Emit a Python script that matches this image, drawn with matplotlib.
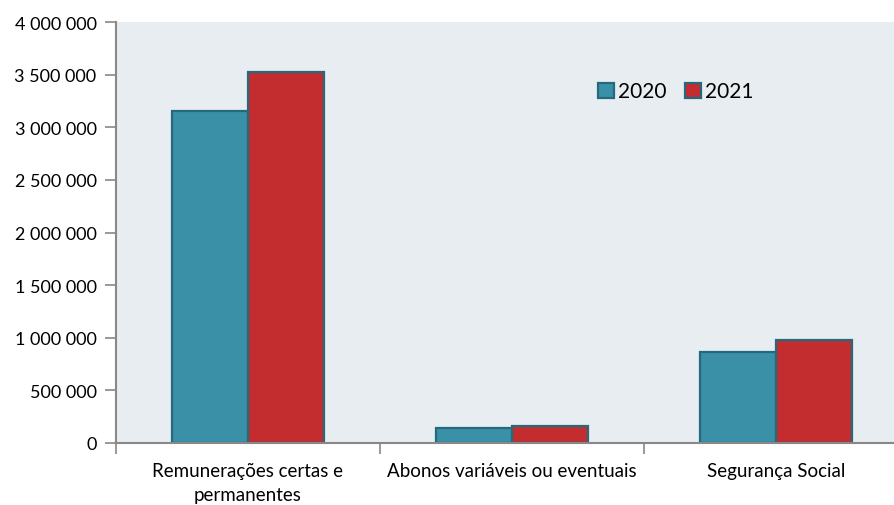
import numpy as np
import matplotlib.pyplot as plt
from matplotlib.ticker import FuncFormatter, FixedLocator

categories = ['Remunerações certas e\npermanentes', 'Abonos variáveis ou eventuais', 'Segurança Social']
values_2020 = [3154000, 143000, 869000]
values_2021 = [3525000, 162000, 974000]
years = ['2020', '2021']

plt.rcParams['font.family'] = ['Lato', 'DejaVu Sans']

fig = plt.figure(figsize=(8.94, 5.06), dpi=100)
# axes runs a little past the right edge, like the original crop
ax = fig.add_axes([116 / 894, 62 / 506, 792 / 894, 421 / 506])
ax.set_facecolor('#E8EDF1')

x = np.arange(len(categories))
w = 0.288
edge = '#236a7c'
ax.bar(x - w / 2, values_2020, w, color='#3A91A7', edgecolor=edge, linewidth=1.6, label=years[0])
ax.bar(x + w / 2, values_2021, w, color='#C32D2F', edgecolor=edge, linewidth=1.6, label=years[1])

ax.set_xlim(-0.5, 2.5)
ax.set_ylim(0, 4000000)
ax.set_yticks(np.arange(0, 4000001, 500000))
ax.yaxis.set_major_formatter(FuncFormatter(lambda v, p: f'{int(v):,}'.replace(',', ' ')))

ax.xaxis.set_major_locator(FixedLocator([-0.5, 0.5, 1.5, 2.5]))
ax.xaxis.set_major_formatter(FuncFormatter(lambda v, p: ''))
ax.xaxis.set_minor_locator(FixedLocator(x))
ax.set_xticklabels(categories, minor=True, linespacing=1.45)
ax.tick_params(axis='x', which='minor', length=0, pad=14, labelsize=13.5)
ax.tick_params(axis='x', which='major', length=8, color='#888888', width=1.2)
ax.tick_params(axis='y', length=8, color='#888888', width=1.2, labelsize=13, pad=6)

for s in ['top', 'right']:
    ax.spines[s].set_visible(False)
for s in ['left', 'bottom']:
    ax.spines[s].set_color('#888888')
    ax.spines[s].set_linewidth(1.5)

ax.legend(loc='center left', bbox_to_anchor=(0.585, 0.835), ncol=2, frameon=False,
          fontsize=15, handlelength=0.75, handleheight=0.75, handletextpad=0.2,
          columnspacing=0.9)

fig.savefig('out.png', dpi=100)
